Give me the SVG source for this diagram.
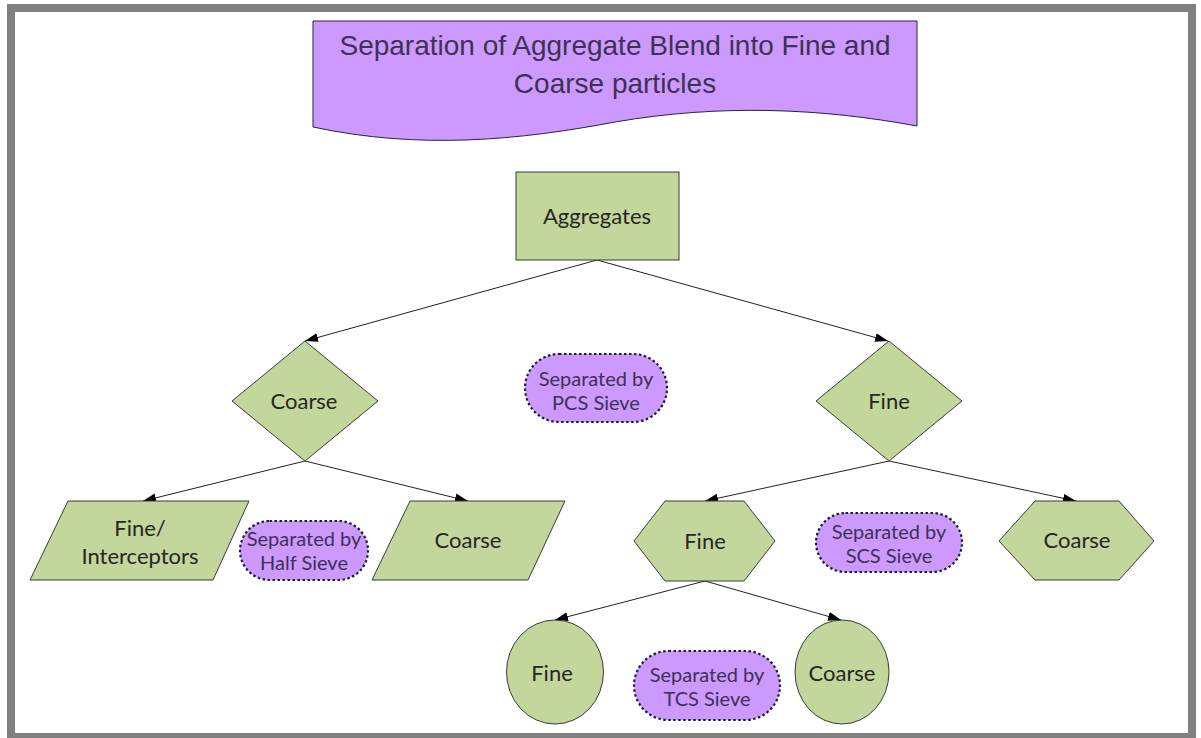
<svg xmlns="http://www.w3.org/2000/svg" width="1201" height="738" viewBox="0 0 1201 738">
<style>
.node{fill:#c3d69b;stroke:#3b3b3b;stroke-width:1}
.pill{fill:#cc99ff;stroke:#1f1a3a;stroke-width:2.2;stroke-dasharray:2.5 2.5}
.lbl{font-family:Lato,"Open Sans",sans-serif;font-size:22px;fill:#262626;text-anchor:middle}
.plbl{font-family:Lato,"Open Sans",sans-serif;font-size:20px;fill:#3f3151;text-anchor:middle}
.title{font-family:"Liberation Sans",Arial,sans-serif;font-size:28px;fill:#3f3151;text-anchor:middle}
.conn{stroke:#222;stroke-width:1;fill:none;marker-end:url(#arr)}
</style>
<defs>
<marker id="arr" markerUnits="userSpaceOnUse" markerWidth="14" markerHeight="10" refX="13" refY="5" orient="auto">
<path d="M0,0.5 L13,5 L0,9.5 z" fill="#000"/>
</marker>
</defs>
<rect x="0" y="0" width="1201" height="738" fill="#fff"/>
<rect id="frame" x="11" y="8" width="1181" height="729" fill="none" stroke="#808080" stroke-width="8"/>
<g id="title">
<path d="M313,21 H917 V126 C820,108 720,104 615,122 C520,140 420,150 313,127 Z" fill="#cc99ff" stroke="#2a2140" stroke-width="1"/>
<text class="title" x="615" y="55">Separation of Aggregate Blend into Fine and</text>
<text class="title" x="615" y="93">Coarse particles</text>
</g>
<g id="connectors">
<line class="conn" x1="597" y1="260" x2="305" y2="341"/>
<line class="conn" x1="597" y1="260" x2="888" y2="341"/>
<line class="conn" x1="305" y1="461" x2="143" y2="501"/>
<line class="conn" x1="305" y1="461" x2="468" y2="501"/>
<line class="conn" x1="889" y1="461" x2="705" y2="501"/>
<line class="conn" x1="889" y1="461" x2="1076" y2="501"/>
<line class="conn" x1="705" y1="581" x2="555" y2="620"/>
<line class="conn" x1="705" y1="581" x2="841" y2="620"/>
</g>
<g id="aggregates">
<rect class="node" x="516" y="172" width="163" height="88"/>
<text class="lbl" x="597" y="224">Aggregates</text>
</g>
<g id="coarse-diamond">
<polygon class="node" points="305,341 378,401 305,461 232,401"/>
<text class="lbl" x="304" y="409">Coarse</text>
</g>
<g id="fine-diamond">
<polygon class="node" points="889,341 962,401 889,461 816,401"/>
<text class="lbl" x="889" y="409">Fine</text>
</g>
<g id="pcs-pill">
<rect class="pill" x="525" y="354" width="142" height="68" rx="34" ry="34"/>
<text class="plbl" x="596" y="386">Separated by</text>
<text class="plbl" x="596" y="410">PCS Sieve</text>
</g>
<g id="fine-interceptors">
<polygon class="node" points="68,501 249,501 213,580 30,580"/>
<text class="lbl" x="140" y="536">Fine/</text>
<text class="lbl" x="140" y="564">Interceptors</text>
</g>
<g id="half-pill">
<rect class="pill" x="240" y="521" width="128" height="59" rx="29.5" ry="29.5"/>
<text class="plbl" x="304" y="546">Separated by</text>
<text class="plbl" x="304" y="570">Half Sieve</text>
</g>
<g id="coarse-parallelogram">
<polygon class="node" points="410,501 565,501 528,580 372,580"/>
<text class="lbl" x="468" y="548">Coarse</text>
</g>
<g id="fine-hexagon">
<polygon class="node" points="634,541 665,501 744,501 775,541 744,581 665,581"/>
<text class="lbl" x="705" y="549">Fine</text>
</g>
<g id="scs-pill">
<rect class="pill" x="816" y="513" width="146" height="59" rx="29.5" ry="29.5"/>
<text class="plbl" x="889" y="539">Separated by</text>
<text class="plbl" x="889" y="563">SCS Sieve</text>
</g>
<g id="coarse-hexagon">
<polygon class="node" points="999,541 1035,501 1119,501 1154,541 1119,580 1035,580"/>
<text class="lbl" x="1077" y="548">Coarse</text>
</g>
<g id="fine-circle">
<ellipse class="node" cx="555" cy="672" rx="48.5" ry="52"/>
<text class="lbl" x="552" y="681">Fine</text>
</g>
<g id="tcs-pill">
<rect class="pill" x="634" y="651" width="146" height="69" rx="34.5" ry="34.5"/>
<text class="plbl" x="707" y="682">Separated by</text>
<text class="plbl" x="707" y="706">TCS Sieve</text>
</g>
<g id="coarse-circle">
<ellipse class="node" cx="842" cy="672" rx="47" ry="52"/>
<text class="lbl" x="842" y="681">Coarse</text>
</g>
</svg>
